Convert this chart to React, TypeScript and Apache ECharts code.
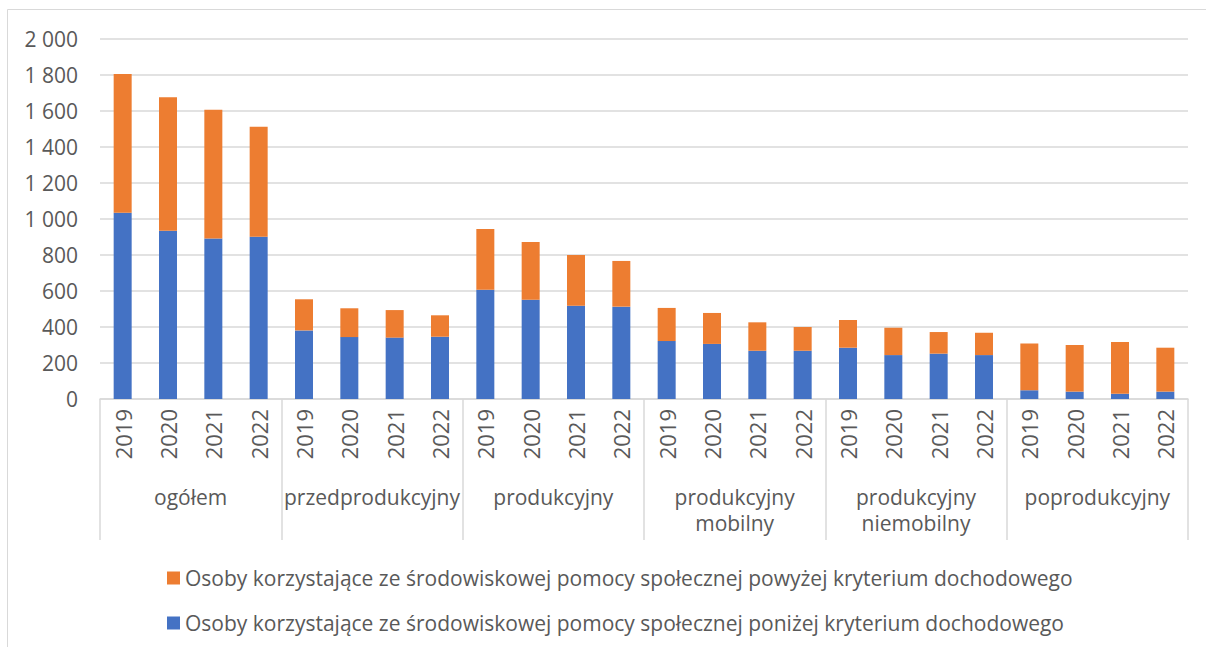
import React, { useEffect, useRef } from "react";
import * as echarts from "echarts";

const groups = ["ogółem", "przedprodukcyjny", "produkcyjny", "produkcyjny\nmobilny", "produkcyjny\nniemobilny", "poprodukcyjny"];
const years = ["2019", "2020", "2021", "2022"];
const yTicks = [0, 200, 400, 600, 800, 1000, 1200, 1400, 1600, 1800, 2000];

const seriesBelowName = "Osoby korzystające ze środowiskowej pomocy społecznej poniżej kryterium dochodowego";
const seriesAboveName = "Osoby korzystające ze środowiskowej pomocy społecznej powyżej kryterium dochodowego";

// values per category (group × year)
const belowValues = [
  1035, 935, 891, 902,
  381, 344, 341, 346,
  607, 552, 518, 513,
  322, 306, 268, 268,
  285, 244, 252, 244,
  48, 41, 29, 41,
];
const aboveValues = [
  771, 741, 716, 611,
  173, 160, 153, 119,
  337, 320, 282, 254,
  184, 172, 158, 132,
  154, 152, 120, 124,
  261, 259, 288, 244,
];

const FONT = "'Open Sans', Lato, sans-serif";
const TXT = "#595959";

export default function App() {
  const ref = useRef<HTMLDivElement>(null);
  useEffect(() => {
    if (!ref.current) return;
    const chart = echarts.init(ref.current, undefined, { renderer: "svg" });
    const categories: string[] = [];
    groups.forEach(() => years.forEach((y) => categories.push(y)));
    const fmt = (v: number) => {
      const s = String(v);
      return s.length > 3 ? s.slice(0, s.length - 3) + " " + s.slice(-3) : s;
    };
    chart.setOption({
      animation: false,
      textStyle: { fontFamily: FONT },
      graphic: [
        {
          type: "rect",
          shape: { x: 7.5, y: 9.5, width: 1210, height: 660 },
          style: { fill: "none", stroke: "#d9d9d9", lineWidth: 1 },
          silent: true,
        },
      ],
      grid: { left: 100, right: 18, top: 39, bottom: 248 },
      legend: {
        orient: "vertical",
        left: 162,
        top: 561,
        itemWidth: 13,
        itemHeight: 13,
        itemGap: 21,
        icon: "rect",
        data: [seriesAboveName, seriesBelowName],
        textStyle: { color: TXT, fontSize: 21, lineHeight: 24, fontFamily: FONT },
      },
      xAxis: [
        {
          type: "category",
          data: categories,
          position: "bottom",
          axisLine: { show: true, lineStyle: { color: "#d9d9d9", width: 1.5 } },
          axisTick: { show: false },
          axisLabel: {
            rotate: 90,
            interval: 0,
            margin: 10,
            color: TXT,
            fontSize: 22,
            fontFamily: FONT,
          },
        },
        {
          type: "category",
          data: groups,
          position: "bottom",
          axisLine: { show: false },
          axisTick: {
            show: true,
            interval: 0,
            length: 141,
            lineStyle: { color: "#d9d9d9", width: 1.5 },
          },
          axisLabel: {
            interval: 0,
            margin: 85,
            color: TXT,
            fontSize: 21,
            lineHeight: 26,
            fontFamily: FONT,
            verticalAlign: "top",
          },
        },
      ],
      yAxis: {
        type: "value",
        min: 0,
        max: 2000,
        interval: 200,
        axisLine: { show: false },
        axisTick: { show: false },
        splitLine: { lineStyle: { color: "#d9d9d9", width: 1.5 } },
        axisLabel: {
          color: TXT,
          fontSize: 21,
          fontFamily: FONT,
          margin: 22,
          formatter: (v: number) => (yTicks.includes(v) ? fmt(v) : ""),
        },
      },
      series: [
        {
          name: seriesBelowName,
          type: "bar",
          stack: "total",
          barWidth: 18,
          data: belowValues,
          itemStyle: { color: "#4472c4" },
        },
        {
          name: seriesAboveName,
          type: "bar",
          stack: "total",
          barWidth: 18,
          data: aboveValues,
          itemStyle: { color: "#ed7d31" },
        },
      ],
    });
    return () => chart.dispose();
  }, []);
  return (
    <div
      ref={ref}
      style={{ position: "fixed", left: 0, top: 0, width: 1206, height: 647, background: "#fff" }}
    />
  );
}
